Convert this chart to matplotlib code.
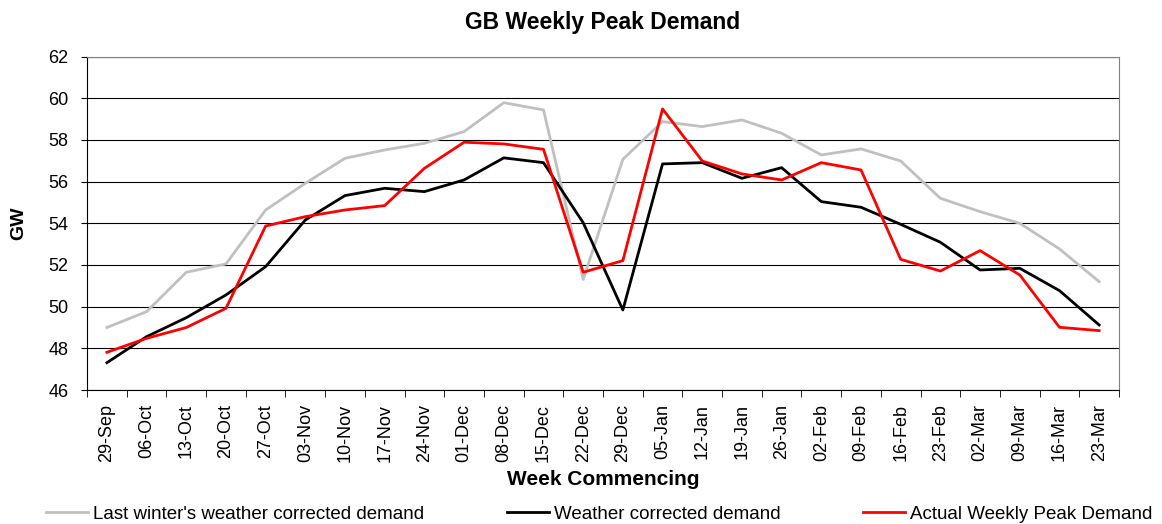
import numpy as np
import matplotlib
matplotlib.use("Agg")
import matplotlib.pyplot as plt


weeks = ["29-Sep", "06-Oct", "13-Oct", "20-Oct", "27-Oct", "03-Nov", "10-Nov",
         "17-Nov", "24-Nov", "01-Dec", "08-Dec", "15-Dec", "22-Dec", "29-Dec",
         "05-Jan", "12-Jan", "19-Jan", "26-Jan", "02-Feb", "09-Feb", "16-Feb",
         "23-Feb", "02-Mar", "09-Mar", "16-Mar", "23-Mar"]

last_winter = [49.0, 49.76, 51.65, 52.05, 54.64, 55.92, 57.12, 57.52, 57.84,
               58.4, 59.79, 59.44, 51.31, 57.07, 58.88, 58.64, 58.96, 58.32,
               57.28, 57.57, 56.99, 55.2, 54.56, 54.0, 52.77, 51.2]

weather_corrected = [47.31, 48.56, 49.47, 50.56, 51.92, 54.16, 55.33, 55.68,
                     55.52, 56.08, 57.14, 56.91, 54.03, 49.84, 56.85, 56.91,
                     56.16, 56.67, 55.04, 54.77, 53.95, 53.09, 51.76, 51.84,
                     50.77, 49.12]

actual_peak = [47.81, 48.48, 49.0, 49.92, 53.87, 54.32, 54.64, 54.85, 56.64,
               57.89, 57.81, 57.55, 51.65, 52.21, 59.49, 56.99, 56.37, 56.08,
               56.91, 56.56, 52.27, 51.71, 52.69, 51.52, 49.01, 48.85]

plt.rcParams["font.family"] = ["Liberation Sans", "DejaVu Sans"]

fig = plt.figure(figsize=(11.62, 5.24), dpi=100)
ax = fig.add_axes([0.0749, 0.2557, 0.8881, 0.6363])

x = np.arange(len(weeks))

ax.plot(x, last_winter, color="#C0C0C0", lw=2.0,
        label="Last winter's weather corrected demand")
ax.plot(x, weather_corrected, color="black", lw=2.0,
        label="Weather corrected demand")
ax.plot(x, actual_peak, color="#FF0000", lw=2.0,
        label="Actual Weekly Peak Demand")

ax.set_xlim(-0.5, len(weeks) - 0.5)
ax.set_ylim(46, 62)
ax.set_yticks(range(46, 63, 2))
ax.yaxis.grid(True, color="black", lw=0.8)
ax.set_axisbelow(True)

ax.set_xticks(x)
ax.set_xticklabels(weeks, rotation=90, fontsize=13)
ax.set_xticks(np.arange(-0.5, len(weeks), 1), minor=True)
ax.tick_params(axis="x", which="major", length=0, pad=10)
ax.tick_params(axis="x", which="minor", length=5, direction="out", color="black")
ax.tick_params(axis="y", labelsize=13, length=4.5, pad=9, direction="out")

ax.spines["top"].set_color("#808080")
ax.spines["right"].set_color("#808080")
ax.spines["left"].set_color("black")
ax.spines["bottom"].set_color("black")

ax.set_title("GB Weekly Peak Demand", fontsize=16.5, fontweight="bold", pad=20)
ax.set_ylabel("GW", fontsize=14, fontweight="bold", labelpad=15)
ax.set_xlabel("Week Commencing", fontsize=15, fontweight="bold", labelpad=6)

fig.legend(loc="center", bbox_to_anchor=(0.516, 0.019), ncol=3,
           frameon=False, fontsize=13.5, handlelength=2.24, handletextpad=0.27,
           columnspacing=4.4)

fig.savefig("out.png", dpi=100)
plt.close(fig)
